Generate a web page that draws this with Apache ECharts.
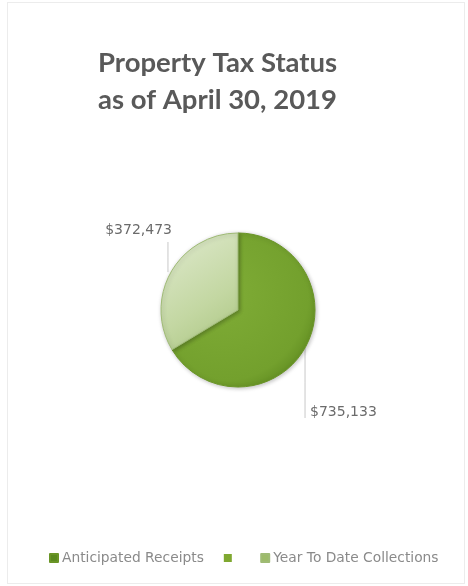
<!DOCTYPE html>
<html>
<head>
<meta charset="utf-8">
<script src="https://cdn.jsdelivr.net/npm/echarts@6/dist/echarts.min.js"></script>
<style>
html,body{margin:0;padding:0;background:#fff;}
#frame{position:absolute;left:7px;top:2px;width:458px;height:582px;border:1px solid #ececec;box-sizing:border-box;}
#chart{position:absolute;left:0;top:0;width:468px;height:586px;}
</style>
</head>
<body>
<div id="frame"></div>
<div id="chart"></div>
<script>
const titleText = 'Property Tax Status\nas of April 30, 2019';
const categories = ['Anticipated Receipts', ' ', 'Year To Date Collections'];
const values = [735133, 0, 372473];
const labelTexts = ['$735,133', '', '$372,473'];

const itemStyles = [
  {
    color: {type:'radial', x:0.35, y:0.4, r:0.75, colorStops:[
      {offset:0, color:'#7fac36'}, {offset:0.8, color:'#73a02d'}, {offset:1, color:'#5e8a1f'}]},
    borderColor:'#6a9526', borderWidth:1,
    shadowBlur:4, shadowColor:'rgba(0,0,0,0.25)', shadowOffsetX:1, shadowOffsetY:1
  },
  { color:'#86ad3a' },
  {
    color: {type:'linear', x:0, y:0, x2:1, y2:1, colorStops:[
      {offset:0, color:'#e0eacf'}, {offset:0.6, color:'#c3d7a2'}, {offset:1, color:'#a9c47f'}]},
    borderColor:'#9fbb75', borderWidth:1,
    shadowBlur:4, shadowColor:'rgba(0,0,0,0.25)', shadowOffsetX:1, shadowOffsetY:1
  }
];

const legendIconColors = ['#5b8a1f', '#7fa830', '#9dbb6a'];

const chart = echarts.init(document.getElementById('chart'));
chart.setOption({
  animation:false,
  title:{
    text:titleText, left:93, top:40,
    textStyle:{fontFamily:'Lato', fontWeight:'bold', fontSize:27.5, color:'#595959', lineHeight:37}
  },
  legend:{
    bottom:16, left:44,
    itemWidth:8, itemHeight:8, itemGap:20,
    data: categories.map((n,i)=>({name:n, icon:'rect', itemStyle:{color:legendIconColors[i]}})),
    textStyle:{fontFamily:'DejaVu Sans', fontSize:13.8, color:'#8a8a8a', padding:[0,0,0,-1]}
  },
  series:[{
    type:'pie',
    center:[238, 310],
    radius:77,
    startAngle:90,
    clockwise:true,
    data: categories.map((n,i)=>({
      name:n, value:values[i], itemStyle:itemStyles[i],
      label:{show: labelTexts[i] !== '', formatter: labelTexts[i]},
      labelLine:{show: labelTexts[i] !== ''}
    })),
    label:{
      position:'outside',
      fontFamily:'DejaVu Sans', fontSize:14, color:'#6b6b6b'
    },
    labelLine:{show:true, length:10, length2:10, lineStyle:{color:'#c8c8c8', width:1}},
    emphasis:{disabled:true},
    labelLayout: function(params){
      const pts = params.labelLinePoints;
      if (!pts) return {};
      const s = pts[0];
      if (params.dataIndex === 0) {
        return {
          x: s[0] + 5, y: 412, align:'left', verticalAlign:'middle',
          labelLinePoints: [[s[0], s[1]], [s[0], (s[1]+418)/2], [s[0], 418]]
        };
      } else {
        return {
          x: 172, y: 230, align:'right', verticalAlign:'middle',
          labelLinePoints: [[s[0]-3, s[1]], [s[0]-3, (s[1]+242)/2], [s[0]-3, 242]]
        };
      }
    }
  }]
});
</script>
</body>
</html>
